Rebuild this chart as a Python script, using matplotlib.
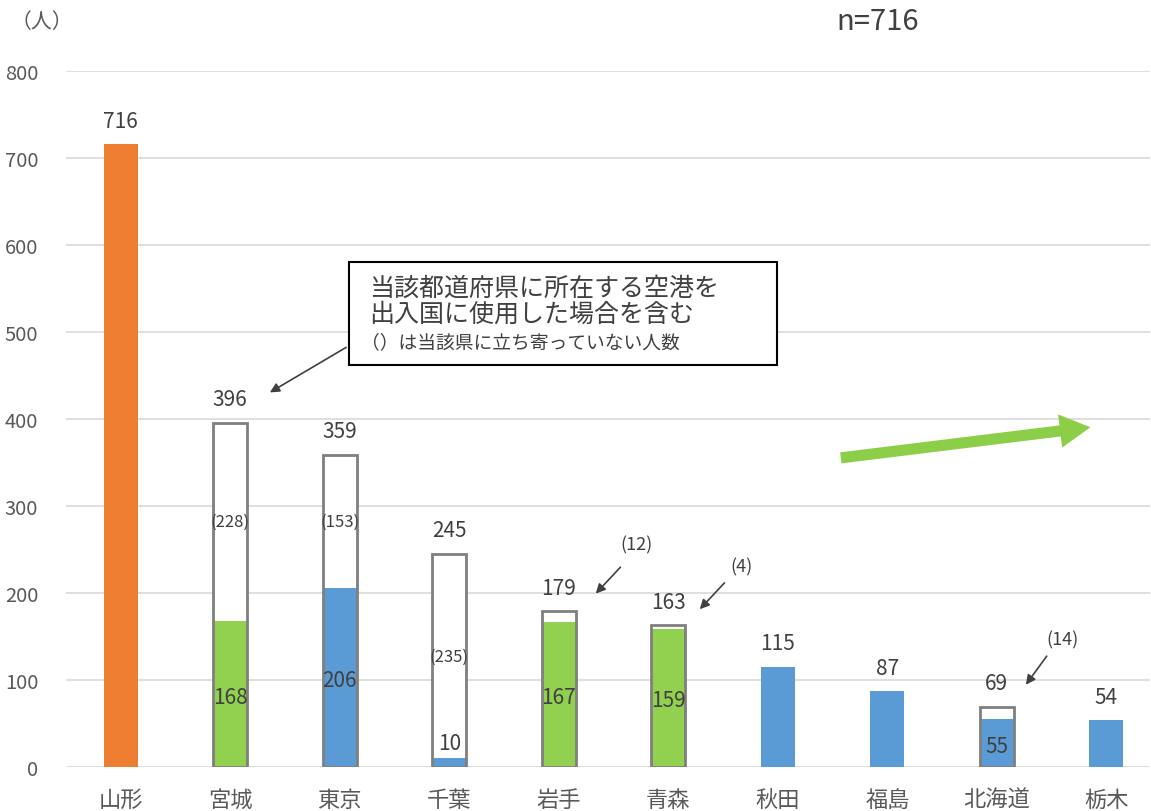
import matplotlib
matplotlib.use('Agg')
import matplotlib.pyplot as plt
from matplotlib.patches import Rectangle, FancyArrowPatch

plt.rcParams['font.family'] = ['Noto Sans CJK JP', 'DejaVu Sans']

# data
prefs = ['山形', '宮城', '東京', '千葉', '岩手', '青森', '秋田', '福島', '北海道', '栃木']
totals = [716, 396, 359, 245, 179, 163, 115, 87, 69, 54]
inner = [716, 168, 206, 10, 167, 159, 115, 87, 55, 54]
not_stayed = [None, 228, 153, 235, 12, 4, None, None, 14, None]
kinds = ['orange', 'green', 'blue', 'blue', 'green', 'green', 'blue', 'blue', 'blue', 'blue']
outlined = [False, True, True, True, True, True, False, False, True, False]

colors = {'orange': '#ed7d31', 'green': '#92d050', 'blue': '#5b9bd5'}
txt = '#404040'
gray = '#595959'

fig = plt.figure(figsize=(11.51, 8.12), dpi=100)
ax = fig.add_axes([0.0573, 0.0542, 0.942, 0.857])

x = list(range(len(prefs)))
w = 0.31

for i in x:
    if outlined[i]:
        ax.bar(i, totals[i], w, color='white', zorder=2)
    ax.bar(i, inner[i], w, color=colors[kinds[i]], zorder=3)
    if outlined[i]:
        ax.bar(i, totals[i], w, facecolor='none', edgecolor='#7f7f7f', lw=2, zorder=4)
    ax.annotate(str(totals[i]), (i, totals[i]), xytext=(0, 9), textcoords='offset points',
                ha='center', va='bottom', fontsize=15, color=txt)

# inner labels
for i in x:
    if not outlined[i]:
        continue
    if inner[i] < 30:
        ax.annotate(str(inner[i]), (i, inner[i]), xytext=(0, 3), textcoords='offset points',
                    ha='center', va='bottom', fontsize=15, color=txt, zorder=5)
    else:
        ax.text(i, inner[i] / 2 - 3, str(inner[i]), ha='center', va='center',
                fontsize=15, color=txt, zorder=5)

# numbers not staying, inside white part
for i in [1, 2, 3]:
    ax.text(i, inner[i] + not_stayed[i] / 2, '(%d)' % not_stayed[i], ha='center', va='center',
            fontsize=12, color=txt, zorder=5)

# small values with arrows
small = {4: ((4.71, 256), (4.58, 232), (4.32, 197)),
         5: ((5.67, 231), (5.53, 214), (5.27, 179)),
         8: ((8.60, 147), (8.47, 130), (8.25, 92))}
for i, (tp, tail, head) in small.items():
    ax.text(tp[0], tp[1], '(%d)' % not_stayed[i], ha='center', va='center', fontsize=13, color=txt)
    ax.annotate('', xy=head, xytext=tail,
                arrowprops=dict(arrowstyle='-|>', color=txt, lw=1.2, mutation_scale=14))

# note box
ax.add_patch(Rectangle((2.08, 462), 3.91, 118, facecolor='white', edgecolor='black', lw=1.5, zorder=6))
ax.text(2.27, 551, '当該都道府県に所在する空港を', fontsize=18, color=txt, va='center', zorder=7)
ax.text(2.27, 521, '出入国に使用した場合を含む', fontsize=18, color=txt, va='center', zorder=7)
ax.text(2.19, 489, '（）は当該県に立ち寄っていない人数', fontsize=13.5, color=txt, va='center', zorder=7)
ax.annotate('', xy=(1.34, 429), xytext=(2.08, 484),
            arrowprops=dict(arrowstyle='-|>', color=txt, lw=1.2, mutation_scale=14))

# green trend arrow
ax.add_patch(FancyArrowPatch((6.55, 355), (8.88, 391), arrowstyle='simple,head_width=2.4,head_length=2.2,tail_width=0.8',
                             mutation_scale=10, color='#8cce48', lw=0, zorder=5))

ax.set_xlim(-0.5, 9.4)
ax.set_ylim(0, 800)
ax.set_yticks(range(0, 801, 100))
ax.set_xticks(x)
ax.set_xticklabels(prefs)
ax.tick_params(axis='x', length=0, pad=15, labelsize=16, labelcolor=gray)
ax.tick_params(axis='y', length=0, pad=20, labelsize=14.5, labelcolor=gray)
ax.grid(axis='y', color='#d9d9d9', lw=1.2)
ax.set_axisbelow(True)
for s in ax.spines.values():
    s.set_visible(False)

fig.text(42 / 1151, 1 - 22 / 812, '（人）', fontsize=15, color=gray, ha='center', va='center')
fig.text(878 / 1151, 1 - 22 / 812, 'n=716', fontsize=21, color=txt, ha='center', va='center')

fig.savefig('out.png', dpi=100)
